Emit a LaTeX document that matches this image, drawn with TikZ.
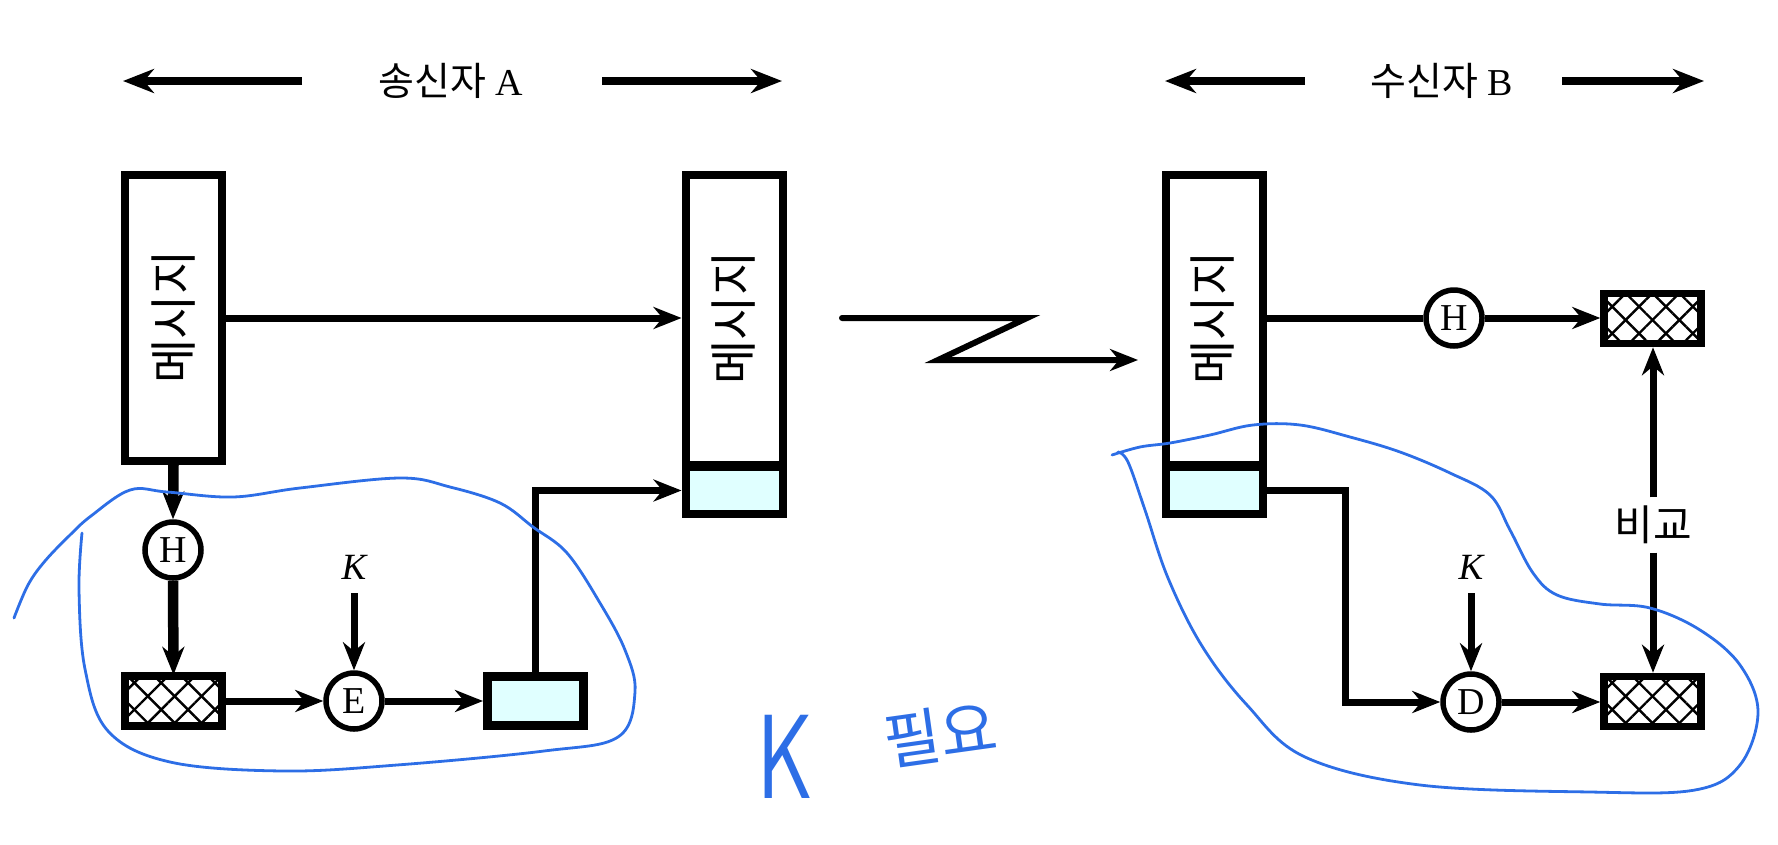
\documentclass[tikz,border=0pt]{standalone}
\usepackage{fontspec}
\setmainfont{Liberation Serif}
\newfontfamily\kr{Noto Sans CJK KR}
\usetikzlibrary{arrows.meta,patterns.meta,calc}
\definecolor{lcyan}{RGB}{224,255,255}
\definecolor{pen}{RGB}{45,110,230}
\begin{document}
\begin{tikzpicture}[x=1pt,y=-1pt,
  tip/.tip={Stealth[length=28pt,width=22pt,inset=9pt]},
  bigtip/.tip={Stealth[length=31pt,width=24pt,inset=10pt]},
  conn/.style={line width=7pt},
  thickconn/.style={line width=10.5pt},
  topconn/.style={line width=7.5pt},
  msg/.style={draw, line width=8pt, minimum width=97pt, inner sep=0pt},
  msgtext/.style={rotate=90, inner sep=0pt, font=\kr\fontsize{48}{48}\selectfont},
  cyanpart/.style={msg, fill=lcyan, minimum height=47pt},
  hatchbox/.style={draw, line width=7.5pt, minimum width=97pt, minimum height=50pt, inner sep=0pt,
    preaction={pattern={Lines[angle=45,distance=19pt,line width=2.4pt]}},
    pattern={Lines[angle=-45,distance=19pt,line width=2.4pt]}},
  circ/.style={circle, draw, line width=5.5pt, minimum size=56pt, inner sep=0pt, fill=white,
    font=\fontsize{38}{38}\selectfont},
  keylabel/.style={inner sep=2pt, font=\fontsize{37}{37}\selectfont\itshape},
  toplabel/.style={inner sep=0pt, font=\fontsize{38}{42}\selectfont},
  cmplabel/.style={inner sep=0pt, minimum height=55pt, font=\kr\fontsize{42}{42}\selectfont},
  penline/.style={draw=pen, line width=2.8pt, line cap=round, line join=round},
  pentext/.style={text=pen, inner sep=0pt, text depth=0pt}
]
\useasboundingbox (0,0) rectangle (1778,844);

% ---------- top labels ----------
\node[toplabel] (sA) at (451,81) {{\kr\fontsize{39}{42}\selectfont 송신자} A};
\coordinate (tla) at (302,81); \coordinate (tlb) at (123,81);
\coordinate (tra) at (602,81); \coordinate (trb) at (782,81);
\draw[topconn,-bigtip] (tla) -- (tlb);
\draw[topconn,-bigtip] (tra) -- (trb);

\node[toplabel] (rB) at (1442,81) {{\kr\fontsize{39}{42}\selectfont 수신자} B};
\coordinate (rla) at (1305,81); \coordinate (rlb) at (1165,81);
\coordinate (rra) at (1562,81); \coordinate (rrb) at (1704,81);
\draw[topconn,-bigtip] (rla) -- (rlb);
\draw[topconn,-bigtip] (rra) -- (rrb);

% ---------- sender A ----------
\node[msg, minimum height=286pt] (A1) at (173.5,318) {};
\node[msgtext] (A1t) at (174,317) {메시지};

\node[cyanpart] (A2c) at (734,490.5) {};
\node[msg, minimum height=290pt] (A2m) at (734,320) {};
\node[msgtext] (A2t) at (734,318) {메시지};

\draw[conn,-tip] (A1.east) -- (A1.east -| A2m.west);

\node[circ] (HL) at (173,550) {H};
\node[hatchbox] (hatchL) at (173.5,701) {};
\node[circ] (E) at (354,701) {E};
\node[keylabel] (KL) at (354,567) {K};
\node[draw, line width=9pt, fill=lcyan, minimum width=96pt, minimum height=49pt, inner sep=0pt] (CL) at (535.5,701) {};

\draw[thickconn,-tip] (A1.south) -- (HL.north);
\draw[thickconn,-tip] (HL.south) -- (hatchL.north);
\draw[conn,-tip] ([yshift=-12pt]KL.south) -- (E.north);
\draw[conn,-tip] (hatchL.east) -- (E.west);
\draw[conn,-tip] (E.east) -- (CL.west);
\draw[conn,-tip] (CL.north) |- (A2c.west);

% ---------- channel ----------
\coordinate (zz1) at (842,318);
\coordinate (zz2) at (1027,318);
\coordinate (zz3) at (938,360);
\coordinate (zz4) at (1138,360);
\draw[line width=6pt,line cap=round,-tip] (zz1) -- (zz2) -- (zz3) -- (zz4);

% ---------- receiver B ----------
\node[cyanpart] (B1c) at (1214.5,490.5) {};
\node[msg, minimum height=290pt] (B1m) at (1214.5,320) {};
\node[msgtext] (B1t) at (1213,318) {메시지};

\node[circ] (HR) at (1454,318) {H};
\node[hatchbox] (hatchRU) at (1652.5,318.5) {};
\node[hatchbox] (hatchRD) at (1652.5,701.5) {};
\node[circ] (D) at (1471,702) {D};
\node[keylabel] (KR) at (1471,567) {K};
\node[cmplabel] (cmp) at (1653,525) {비교};
\coordinate (bend) at (1345,490.5);

\draw[conn] (B1m.east |- HR) -- (HR.west);
\draw[conn,-tip] (HR.east) -- (HR.east -| hatchRU.west);
\draw[conn,-tip] (B1c.east) -- (bend) |- (D.west);
\draw[conn,-tip] ([yshift=-12pt]KR.south) -- (D.north);
\draw[conn,-tip] (D.east) -- (D.east -| hatchRD.west);
\draw[conn,-tip] (cmp.north) -- (cmp.north |- hatchRU.south);
\draw[conn,-tip] (cmp.south) -- (cmp.south |- hatchRD.north);

% ---------- handwritten annotations ----------
\draw[penline] plot[smooth, tension=0.6] coordinates {
 (14,618) (28,585) (45,561) (70,535) (91,516) (130,490) (167,492) (233,497)
 (300,488) (400,478) (450,487) (500,503) (533,527) (567,553) (600,603)
 (625,650) (635,692) (618,737) (544,751) (397,765) (283,771) (170,762)
 (108,731) (85,669) (79,590) (82,533)};

\draw[penline] plot[smooth, tension=0.6] coordinates {
 (1112,455) (1140,447) (1170,443) (1210,435) (1253,425) (1300,425) (1350,437)
 (1400,452) (1450,473) (1490,495) (1510,530) (1533,573) (1557,595) (1600,604)
 (1650,608) (1700,630) (1740,665) (1758,712) (1740,765) (1695,790) (1590,792)
 (1420,785) (1305,757) (1247,705) (1202,646) (1168,578) (1145,510) (1128,462)
 (1118,452)};

\node[pentext, font=\fontsize{96}{96}\selectfont\sffamily, xscale=0.9, yscale=1.25] (hwK) at (786,757) {K};
\node[pentext, font=\kr\fontsize{62}{62}\selectfont, rotate=8] (hwP) at (940,732) {필요};
\end{tikzpicture}
\end{document}
